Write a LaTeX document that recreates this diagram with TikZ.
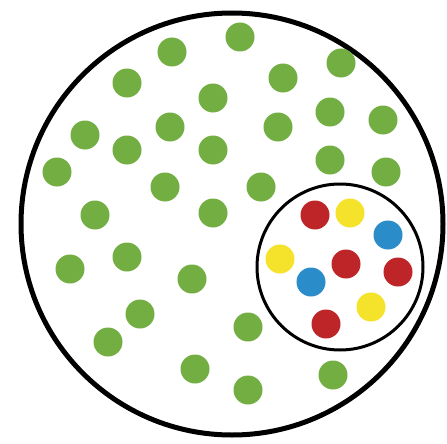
\documentclass[tikz,border=0pt]{standalone}
\usepackage{xcolor}
\usepackage{tikz}
\usetikzlibrary{positioning,calc}
\definecolor{dotgreen}{HTML}{73AE42}
\definecolor{dotred}{HTML}{BE2529}
\definecolor{dotyellow}{HTML}{F4E32A}
\definecolor{dotblue}{HTML}{2A8CC8}
\begin{document}
\begin{tikzpicture}[
    x=1pt,y=-1pt,
    ring/.style  = {draw=black,line width=5pt,fill=white},
    sub/.style   = {draw=black,line width=3pt,fill=white},
    dotg/.style  = {fill=dotgreen},
    dotr/.style  = {fill=dotred},
    doty/.style  = {fill=dotyellow},
    dotb/.style  = {fill=dotblue},
  ]
  \useasboundingbox (0,0) rectangle (447,444);

  % Grand cercle
  \coordinate (big) at (232,224);
  \draw[ring] (big) circle (211pt);

  % Points verts
  \foreach \px/\py in {172/52,240/37,127/83,213/98,283/78,341/63,
                       85/135,127/150,170/127,213/150,278/127,330/112,383/120,
                       57/172,165/187,261/187,330/160,386/172,
                       95/215,213/213,70/269,127/257,192/279,
                       140/314,108/342,195/369,248/327,248/390,333/375}
    \fill[dotg] (\px,\py) circle (14.5pt);

  % Petit cercle
  \coordinate (small) at (340,267);
  \draw[sub] (small) circle (83pt);

  % Points colores
  \foreach \px/\py in {315/215,346/264,398/272,326/324}
    \fill[dotr] (\px,\py) circle (14.5pt);
  \foreach \px/\py in {350/213,280/259,371/307}
    \fill[doty] (\px,\py) circle (14.5pt);
  \foreach \px/\py in {388/235,311/282}
    \fill[dotb] (\px,\py) circle (14.5pt);

\end{tikzpicture}
\end{document}
